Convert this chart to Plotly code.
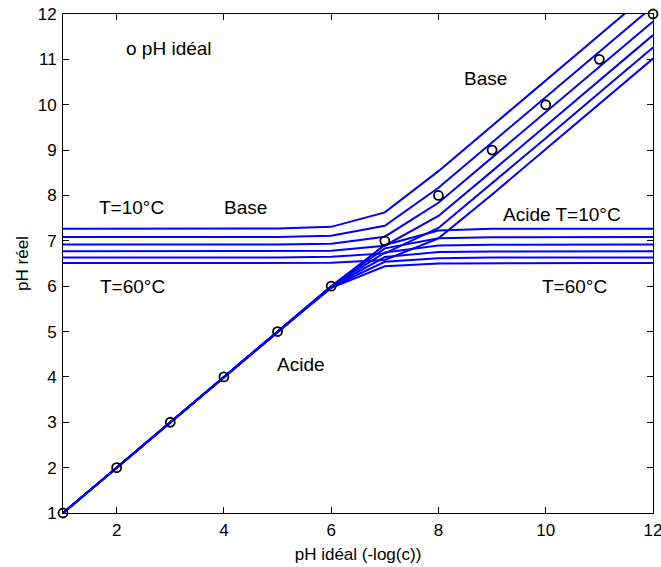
import plotly.graph_objects as go

# pH idéal (-log(c)) values
ph_ideal = [1, 2, 3, 4, 5, 6, 7, 8, 9, 10, 11, 12]
temperatures = [10, 20, 30, 40, 50, 60]

acid_T10 = [1, 2, 3, 4, 5.000, 5.999, 6.908, 7.227, 7.264, 7.267, 7.268, 7.268]
acid_T20 = [1, 2, 3, 4, 5.000, 5.997, 6.834, 7.057, 7.081, 7.083, 7.084, 7.084]
acid_T30 = [1, 2, 3, 4, 4.999, 5.994, 6.742, 6.899, 6.915, 6.916, 6.917, 6.917]
acid_T40 = [1, 2, 3, 4, 4.999, 5.988, 6.642, 6.755, 6.766, 6.767, 6.768, 6.768]
acid_T50 = [1, 2, 3, 4, 4.998, 5.978, 6.539, 6.613, 6.630, 6.631, 6.631, 6.631]
acid_T60 = [1, 2, 3, 4, 4.996, 5.963, 6.439, 6.502, 6.508, 6.508, 6.509, 6.509]

base_T10 = [7.268, 7.268, 7.268, 7.269, 7.271, 7.308, 7.627, 8.536, 9.535, 10.535, 11.535, 12.535]
base_T20 = [7.084, 7.084, 7.084, 7.084, 7.086, 7.110, 7.333, 8.170, 9.167, 10.167, 11.167, 12.167]
base_T30 = [6.917, 6.917, 6.917, 6.917, 6.918, 6.934, 7.091, 7.839, 8.834, 9.834, 10.834, 11.834]
base_T40 = [6.768, 6.768, 6.768, 6.768, 6.769, 6.780, 6.893, 7.547, 8.536, 9.535, 10.535, 11.535]
base_T50 = [6.631, 6.631, 6.631, 6.631, 6.632, 6.649, 6.723, 7.284, 8.264, 9.262, 10.262, 11.262]
base_T60 = [6.509, 6.509, 6.509, 6.509, 6.509, 6.515, 6.578, 7.054, 8.021, 9.017, 10.017, 11.017]

acid_series = [acid_T10, acid_T20, acid_T30, acid_T40, acid_T50, acid_T60]
base_series = [base_T10, base_T20, base_T30, base_T40, base_T50, base_T60]

x_ticks = [2, 4, 6, 8, 10, 12]
y_ticks = [1, 2, 3, 4, 5, 6, 7, 8, 9, 10, 11, 12]

labels = [
    ("o pH idéal", 2.98, 11.25),
    ("T=10°C", 2.28, 7.73),
    ("Base", 4.41, 7.73),
    ("T=60°C", 2.29, 5.99),
    ("Acide", 5.44, 4.27),
    ("Base", 8.87, 10.57),
    ("Acide T=10°C", 10.30, 7.59),
    ("T=60°C", 10.53, 5.99),
]

FONT = "Liberation Sans, Arial, sans-serif"

fig = go.Figure()
for T, ys in zip(temperatures, acid_series):
    fig.add_trace(go.Scatter(x=ph_ideal, y=ys, mode="lines",
                             line=dict(color="#0000FF", width=2),
                             name=f"Acide {T}°C", showlegend=False))
for T, ys in zip(temperatures, base_series):
    fig.add_trace(go.Scatter(x=ph_ideal, y=ys, mode="lines",
                             line=dict(color="#0000FF", width=2),
                             name=f"Base {T}°C", showlegend=False))
fig.add_trace(go.Scatter(x=ph_ideal, y=ph_ideal, mode="markers",
                         marker=dict(symbol="circle-open", size=9,
                                     color="black", line=dict(width=1.8, color="black")),
                         cliponaxis=False, showlegend=False, name="pH idéal"))

for txt, xx, yy in labels:
    fig.add_annotation(x=xx, y=yy, xref="x", yref="y", text=txt,
                       showarrow=False, font=dict(size=19, color="black", family=FONT))

axis_common = dict(showline=True, linecolor="black", linewidth=1, mirror="ticks",
                   ticks="inside", ticklen=6, tickcolor="black", tickwidth=1,
                   showgrid=False, zeroline=False, ticklabeloverflow="allow",
                   automargin=False,
                   tickfont=dict(size=17, color="black", family=FONT))

fig.update_xaxes(range=[1, 12.0001], tickvals=x_ticks, ticktext=[str(v) for v in x_ticks],
                 title=dict(text="pH idéal (-log(c))", font=dict(size=17, color="black", family=FONT),
                            standoff=8),
                 ticklabelstandoff=2, **axis_common)
fig.update_yaxes(range=[1, 12], tickvals=y_ticks, ticktext=[str(v) for v in y_ticks],
                 title=dict(text="pH réel", font=dict(size=17, color="black", family=FONT),
                            standoff=4),
                 ticklabelstandoff=2, **axis_common)

fig.update_layout(width=661, height=567, margin=dict(l=63, r=8, t=14, b=54),
                  plot_bgcolor="white", paper_bgcolor="white",
                  font=dict(family=FONT, color="black"))

fig.write_html("out.html")
